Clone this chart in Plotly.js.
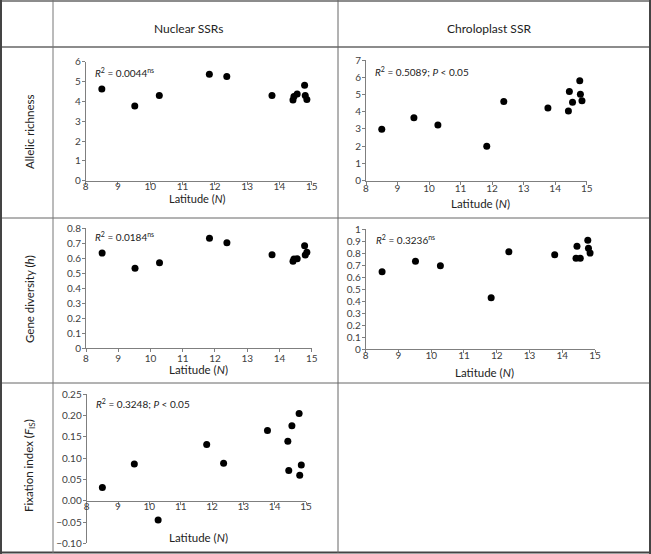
<!DOCTYPE html>
<html>
<head>
<meta charset="utf-8">
<script src="https://cdn.plot.ly/plotly-3.0.1.min.js"></script>
<style>html,body{margin:0;padding:0;background:#fff;}#chart{width:651px;height:554px;}</style>
</head>
<body>
<div id="chart"></div>
<script>
// ---- data ----
var latitude   = [8.50, 9.52, 10.28, 11.83, 12.37, 13.77, 14.42, 14.45, 14.55, 14.78, 14.80, 14.85];
var nuclearAR  = [4.62, 3.77, 4.29, 5.37, 5.25, 4.29, 4.07, 4.24, 4.37, 4.81, 4.29, 4.10];
var chloroAR   = [2.98, 3.65, 3.23, 2.00, 4.60, 4.22, 4.04, 5.18, 4.55, 5.80, 5.01, 4.64];
var nuclearH   = [0.635, 0.533, 0.571, 0.733, 0.704, 0.624, 0.580, 0.595, 0.597, 0.684, 0.622, 0.640];
var chloroH    = [0.645, 0.731, 0.695, 0.429, 0.811, 0.786, 0.756, 0.856, 0.756, 0.906, 0.840, 0.800];
var nuclearFis = [0.031, 0.086, -0.045, 0.132, 0.088, 0.165, 0.140, 0.071, 0.176, 0.205, 0.060, 0.084];

var columnHeaders = ["Nuclear SSRs", "Chroloplast SSR"];
var rowLabels = ["Allelic richness", "Gene diversity (<i>h</i>)", "Fixation index (<i>F</i><sub>IS</sub>)"];
var statLabels = [
  "<i>R</i><sup>2</sup> = 0.0044<sup>ns</sup>",
  "<i>R</i><sup>2</sup> = 0.5089; <i>P</i> &lt; 0.05",
  "<i>R</i><sup>2</sup> = 0.0184<sup>ns</sup>",
  "<i>R</i><sup>2</sup> = 0.3236<sup>ns</sup>",
  "<i>R</i><sup>2</sup> = 0.3248; <i>P</i> &lt; 0.05"
];
var xTitle = "Latitude (<i>N</i>)";

// ---- layout helpers ----
var W = 651, H = 554;
function fx(p){ return p / W; }
function fy(p){ return 1 - p / H; }

var FONT = "Lato, 'Open Sans', 'DejaVu Sans', sans-serif";
var tickFont = {family: FONT, size: 10, color: "#404040"};

function xaxisDef(x0, x1, extra){
  var a = {domain: [fx(x0), fx(x1)], range: [8, 15], tick0: 8, dtick: 1,
    showgrid: false, zeroline: false, showline: true, linecolor: "#7f7f7f", linewidth: 1,
    ticks: "outside", ticklen: 3, tickcolor: "#7f7f7f", tickfont: tickFont, fixedrange: true};
  for (var k in extra) a[k] = extra[k];
  return a;
}
function yaxisDef(y0, y1, range, dtick, extra){
  var a = {domain: [fy(y1), fy(y0)], range: range, tick0: 0, dtick: dtick,
    showgrid: false, zeroline: false, showline: true, linecolor: "#7f7f7f", linewidth: 1,
    ticks: "outside", ticklen: 3, tickcolor: "#7f7f7f", tickfont: tickFont, fixedrange: true,
    ticklabelstandoff: -1};
  for (var k in extra) a[k] = extra[k];
  return a;
}

var marker = {color: "#000", size: 7};
function tr(y, n){
  return {x: latitude, y: y, type: "scatter", mode: "markers", marker: marker,
    xaxis: "x" + (n === 1 ? "" : n), yaxis: "y" + (n === 1 ? "" : n), cliponaxis: false, hoverinfo: "x+y"};
}
var data = [tr(nuclearAR,1), tr(chloroAR,2), tr(nuclearH,3), tr(chloroH,4), tr(nuclearFis,5)];

// panel 5 y domain and x-axis crossing at 0
var p5y0 = 394.3, p5y1 = 543.3, p5range = [-0.10, 0.25];
var p5zeroFrac = fy(p5y1) + (0 - p5range[0]) / (p5range[1] - p5range[0]) * (fy(p5y0) - fy(p5y1));

var layout = {
  width: W, height: H, margin: {l: 0, r: 0, t: 0, b: 0},
  paper_bgcolor: "#fff", plot_bgcolor: "rgba(0,0,0,0)", showlegend: false,
  font: {family: FONT, color: "#222"},
  xaxis:  xaxisDef(85.7, 311.7, {anchor: "y", ticklabelstandoff: -7}),
  yaxis:  yaxisDef(61.7, 180.7, [0, 6], 1, {anchor: "x"}),
  xaxis2: xaxisDef(366, 586.7, {anchor: "y2", ticklabelstandoff: -5}),
  yaxis2: yaxisDef(60, 180.7, [0, 7], 1, {anchor: "x2"}),
  xaxis3: xaxisDef(86, 311.7, {anchor: "y3", ticklabelstandoff: -2}),
  yaxis3: yaxisDef(228.3, 348.3, [0, 0.8], 0.1, {anchor: "x3"}),
  xaxis4: xaxisDef(365.7, 595, {anchor: "y4", ticklabelstandoff: -6}),
  yaxis4: yaxisDef(229, 349.3, [0, 1], 0.1, {anchor: "x4"}),
  xaxis5: xaxisDef(86.7, 306, {anchor: "free", position: p5zeroFrac, ticklabelstandoff: -7}),
  yaxis5: yaxisDef(p5y0, p5y1, p5range, 0.05, {anchor: "x5", tick0: -0.10, tickformat: ".2f"}),
  annotations: [],
  shapes: []
};

function ann(text, x, y, opts){
  var a = {text: text, x: fx(x), y: fy(y), xref: "paper", yref: "paper", showarrow: false,
    xanchor: "center", yanchor: "middle", font: {family: FONT, size: 11.5, color: "#222"}};
  for (var k in opts) a[k] = opts[k];
  layout.annotations.push(a);
}
// column headers
ann(columnHeaders[0], 188, 28, {font: {family: FONT, size: 12, color: "#222"}});
ann(columnHeaders[1], 489, 28, {font: {family: FONT, size: 12, color: "#222"}});
// row labels
ann(rowLabels[0], 29, 132, {textangle: -90});
ann(rowLabels[1], 29, 299, {textangle: -90});
ann(rowLabels[2], 29, 466, {textangle: -90});
// x-axis titles
ann(xTitle, 197, 198.5, {font: {family: FONT, size: 11, color: "#222"}});
ann(xTitle, 480, 203);
ann(xTitle, 198, 369);
ann(xTitle, 484, 372);
ann(xTitle, 198, 537);
// stats
var statFont = {family: FONT, size: 10, color: "#222"};
ann(statLabels[0], 93, 73, {xanchor: "left", font: statFont});
ann(statLabels[1], 373, 71, {xanchor: "left", font: statFont});
ann(statLabels[2], 93, 237, {xanchor: "left", font: statFont});
ann(statLabels[3], 374, 240, {xanchor: "left", font: statFont});
ann(statLabels[4], 94, 403, {xanchor: "left", font: statFont});

// table grid lines
function hline(y, x0, x1, color, w){
  layout.shapes.push({type: "line", xref: "paper", yref: "paper", x0: fx(x0), x1: fx(x1), y0: fy(y), y1: fy(y),
    line: {color: color, width: w}});
}
function vline(x, y0, y1, color, w){
  layout.shapes.push({type: "line", xref: "paper", yref: "paper", x0: fx(x), x1: fx(x), y0: fy(y0), y1: fy(y1),
    line: {color: color, width: w}});
}
hline(1, 0, 651, "#8c8c8c", 2);
hline(47, 0, 651, "#8c8c8c", 2);
hline(218, 0, 651, "#666", 1);
hline(383, 0, 651, "#666", 1);
hline(552.5, 0, 651, "#444", 2);
vline(1, 0, 554, "#444", 2);
vline(53, 0, 553, "#777", 1);
vline(338, 0, 553, "#666", 1);
vline(650, 0, 554, "#444", 2);

Plotly.newPlot("chart", data, layout, {displayModeBar: false, staticPlot: true});
</script>
</body>
</html>
